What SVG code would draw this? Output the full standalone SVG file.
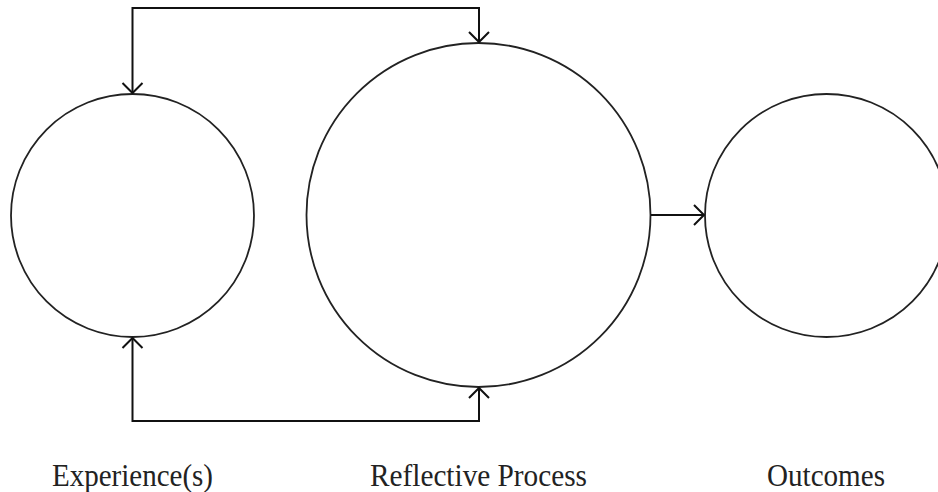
<svg xmlns="http://www.w3.org/2000/svg" width="938" height="492" viewBox="0 0 938 492">
<style>
.node{fill:none;stroke:#222;stroke-width:1.8}
.conn{fill:none;stroke:#111;stroke-width:2}
.lbl{font-family:"Liberation Serif","Times New Roman",serif;font-size:31px;fill:#222;text-anchor:middle}
</style>
<defs>
<marker id="arr" markerUnits="userSpaceOnUse" markerWidth="14" markerHeight="24" viewBox="0 0 14 24" refX="12" refY="12" orient="auto">
<path d="M2,2 L12,12 L2,22" fill="none" stroke="#111" stroke-width="2"/>
</marker>
</defs>
<rect width="938" height="492" fill="#fff"/>
<g id="experiences">
<circle class="node" cx="132.5" cy="215.5" r="121.5"/>
<text class="lbl" x="132.5" y="486" textLength="161" lengthAdjust="spacingAndGlyphs">Experience(s)</text>
</g>
<g id="reflective-process">
<circle class="node" cx="478.5" cy="215" r="172"/>
<text class="lbl" x="478.5" y="486" textLength="217" lengthAdjust="spacingAndGlyphs">Reflective Process</text>
</g>
<g id="outcomes">
<circle class="node" cx="826.5" cy="215.5" r="121.5"/>
<text class="lbl" x="826" y="486" textLength="118" lengthAdjust="spacingAndGlyphs">Outcomes</text>
</g>
<g id="connectors">
<polyline class="conn" points="479,8 132.5,8 132.5,93" marker-end="url(#arr)"/>
<polyline class="conn" points="132.5,8 479,8 479,42" marker-end="url(#arr)"/>
<polyline class="conn" points="479,421 132.5,421 132.5,338" marker-end="url(#arr)"/>
<polyline class="conn" points="132.5,421 479,421 479,388" marker-end="url(#arr)"/>
<line class="conn" x1="651" y1="215" x2="704" y2="215" marker-end="url(#arr)"/>
</g>
</svg>
